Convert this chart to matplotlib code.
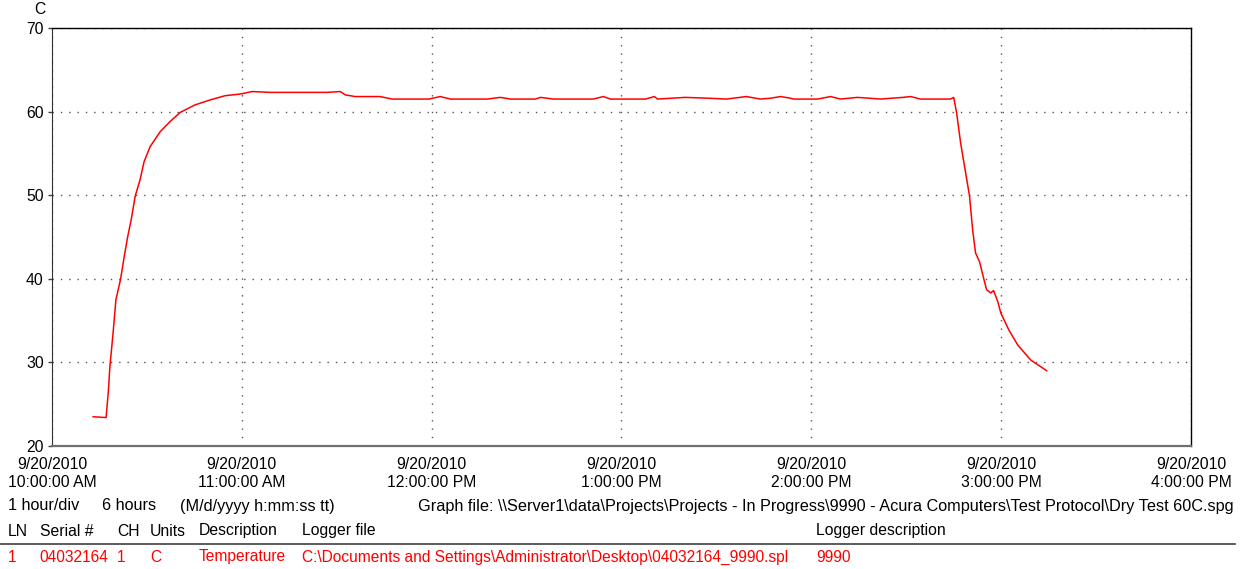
import matplotlib
matplotlib.use("Agg")
import matplotlib.pyplot as plt

plt.rcParams['font.family'] = ['Liberation Sans', 'DejaVu Sans']

# minutes after 9/20/2010 10:00:00 AM, temperature in C
minutes = [13.0, 17.1, 17.8, 18.3, 19.3, 20.2, 21.7, 22.8, 23.9, 25.0,
           26.3, 27.8, 29.1, 31.0, 34.2, 37.3, 40.5, 45.2, 50.0, 54.7,
           59.5, 63.3, 69.0, 87.0, 91.1, 92.7, 95.8, 103.7, 107.5, 119.2,
           122.7, 125.9, 137.6, 141.7, 144.9, 152.8, 154.4, 158.5, 171.1, 174.3,
           176.5, 187.6, 190.4, 191.4, 200.2, 207.5, 213.2, 219.5, 223.9, 227.1,
           230.3, 233.4, 234.4, 242.0, 246.1, 249.2, 254.6, 261.9, 268.9, 271.4,
           274.5, 284.0, 285.0, 285.9, 287.2, 288.8, 290.0, 291.0, 291.9, 293.2,
           294.5, 295.4, 296.7, 297.6, 298.9, 299.9, 302.4, 305.2, 309.3, 314.4]
temps = [23.5, 23.4, 26.5, 29.5, 33.5, 37.5, 40.0, 42.6, 45.0, 47.0,
         49.9, 51.8, 54.0, 55.8, 57.6, 58.8, 59.9, 60.8, 61.4, 61.9,
         62.1, 62.4, 62.3, 62.3, 62.4, 62.0, 61.8, 61.8, 61.5, 61.5,
         61.8, 61.5, 61.5, 61.7, 61.5, 61.5, 61.7, 61.5, 61.5, 61.8,
         61.5, 61.5, 61.8, 61.5, 61.7, 61.6, 61.5, 61.8, 61.5, 61.6,
         61.8, 61.6, 61.5, 61.5, 61.8, 61.5, 61.7, 61.5, 61.7, 61.8,
         61.5, 61.5, 61.7, 59.9, 56.2, 52.6, 49.9, 45.8, 43.1, 42.0,
         40.0, 38.7, 38.3, 38.6, 37.3, 35.9, 33.9, 32.1, 30.3, 29.0]

tick_minutes = [0, 60, 120, 180, 240, 300, 360]
tick_labels = ["9/20/2010\n10:00:00 AM", "9/20/2010\n11:00:00 AM",
               "9/20/2010\n12:00:00 PM", "9/20/2010\n1:00:00 PM",
               "9/20/2010\n2:00:00 PM", "9/20/2010\n3:00:00 PM",
               "9/20/2010\n4:00:00 PM"]
y_ticks = [20, 30, 40, 50, 60, 70]

info_row = [(8, "1 hour/div"), (102, "6 hours"), (180, "(M/d/yyyy h:mm:ss tt)"),
            (418, "Graph file: \\\\Server1\\data\\Projects\\Projects - In Progress\\9990 - "
                  "Acura Computers\\Test Protocol\\Dry Test 60C.spg")]
header_row = [(8, "LN"), (40, "Serial #"), (117, "CH"), (150, "Units"),
              (199, "Description"), (302, "Logger file"), (816, "Logger description")]
channel_row = [(8, "1"), (39, "04032164"), (117, "1"), (150, "C"),
               (199, "Temperature"),
               (302, "C:\\Documents and Settings\\Administrator\\Desktop\\04032164_9990.spl"),
               (816, "9990")]

W, H = 1247, 569
fig = plt.figure(figsize=(W / 100, H / 100), dpi=100)
ax = fig.add_axes([52 / W, 1 - 446 / H, (1191 - 52) / W, (446 - 28) / H])

ax.plot(minutes, temps, color='#ff0000', lw=1.1)

ax.set_xlim(0, 360)
ax.set_ylim(20, 70)
ax.set_xticks(tick_minutes)
ax.set_xticklabels(tick_labels, fontsize=11.3, linespacing=1.2)
ax.set_yticks(y_ticks)
ax.set_yticklabels([str(v) for v in y_ticks], fontsize=11.3)
ax.tick_params(axis='x', length=0, pad=8)
ax.tick_params(axis='y', length=3, width=1, pad=3, color='#404040')
ax.grid(True, color='#555555', linestyle=(0, (1, 5)), lw=1)

for side in ['top', 'right']:
    ax.spines[side].set_color('black')
    ax.spines[side].set_linewidth(1)
ax.spines['left'].set_color('#303030')
ax.spines['bottom'].set_color('#707070')
ax.spines['bottom'].set_linewidth(1.6)

fig.text(40 / W, 1 - 10 / H, "C", fontsize=11.3, ha='center', va='center')

def row(items, y, size, color='black'):
    for x, s in items:
        fig.text(x / W, 1 - y / H, s, fontsize=size, ha='left', va='center', color=color)

row(info_row, 506, 11.7)
row(header_row, 531, 11.3)
row(channel_row, 557, 11.2, color='#ff0000')
fig.add_artist(plt.Line2D([0, 1235 / W], [1 - 544 / H, 1 - 544 / H],
                          color='#404040', lw=1.2, transform=fig.transFigure))

fig.savefig("out.png", dpi=100)
